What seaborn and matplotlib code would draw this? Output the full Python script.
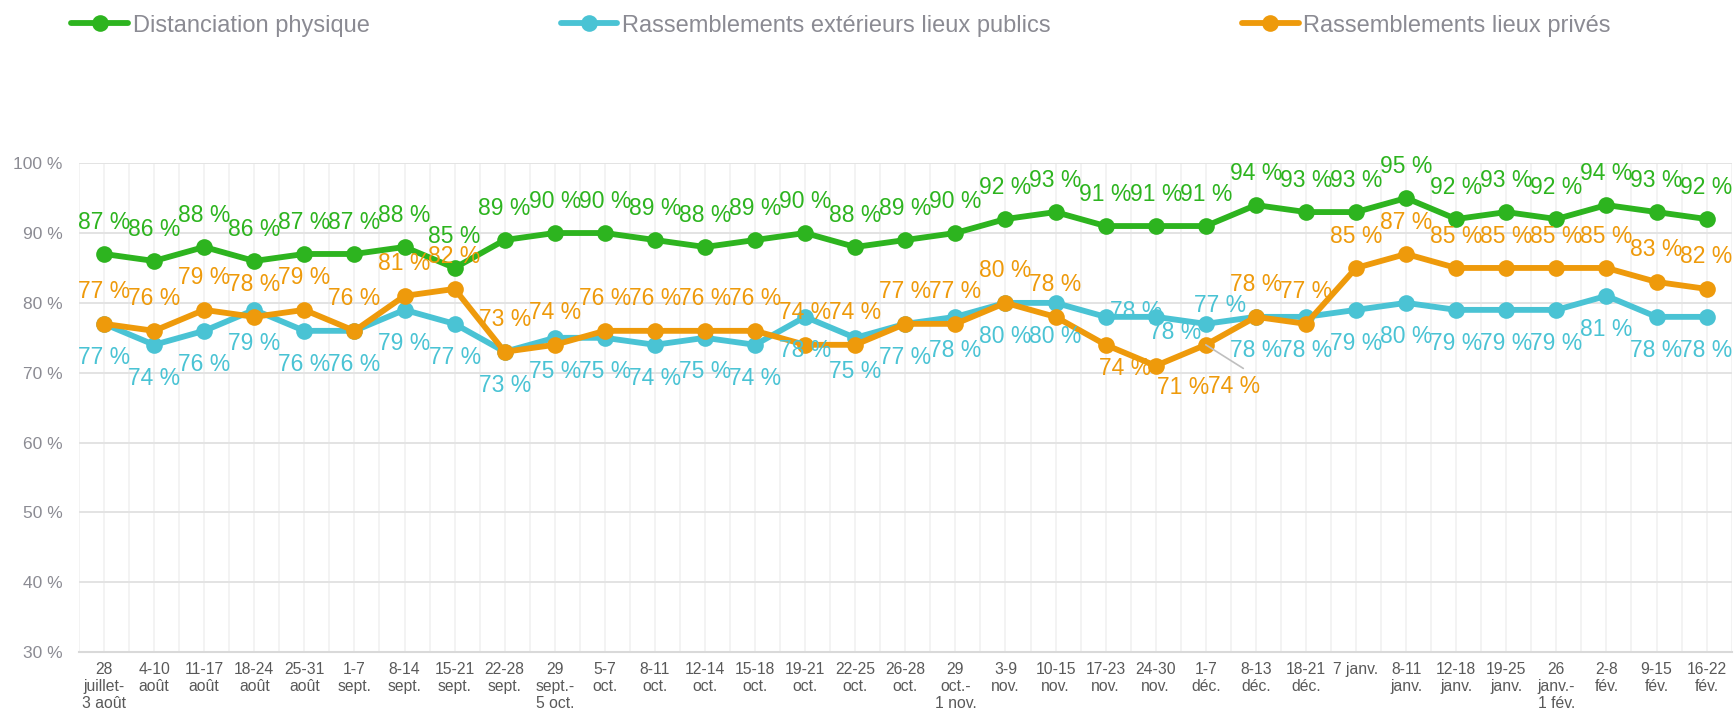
import matplotlib
matplotlib.use('Agg')
import matplotlib.pyplot as plt
from matplotlib.ticker import FixedLocator
import numpy as np
import pandas as pd
import seaborn as sns

# Data
weeks = ['28\njuillet-\n3 août', '4-10\naoût', '11-17\naoût', '18-24\naoût', '25-31\naoût',
         '1-7\nsept.', '8-14\nsept.', '15-21\nsept.', '22-28\nsept.', '29\nsept.-\n5 oct.',
         '5-7\noct.', '8-11\noct.', '12-14\noct.', '15-18\noct.', '19-21\noct.', '22-25\noct.',
         '26-28\noct.', '29\noct.-\n1 nov.', '3-9\nnov.', '10-15\nnov.', '17-23\nnov.',
         '24-30\nnov.', '1-7\ndéc.', '8-13\ndéc.', '18-21\ndéc.', '7 janv.', '8-11\njanv.',
         '12-18\njanv.', '19-25\njanv.', '26\njanv.-\n1 fév.', '2-8\nfév.', '9-15\nfév.',
         '16-22\nfév.']

distanciation = [87, 86, 88, 86, 87, 87, 88, 85, 89, 90, 90, 89, 88, 89, 90, 88, 89, 90,
                 92, 93, 91, 91, 91, 94, 93, 93, 95, 92, 93, 92, 94, 93, 92]
exterieurs = [77, 74, 76, 79, 76, 76, 79, 77, 73, 75, 75, 74, 75, 74, 78, 75, 77, 78,
              80, 80, 78, 78, 77, 78, 78, 79, 80, 79, 79, 79, 81, 78, 78]
prives = [77, 76, 79, 78, 79, 76, 81, 82, 73, 74, 76, 76, 76, 76, 74, 74, 77, 77,
          80, 78, 74, 71, 74, 78, 77, 85, 87, 85, 85, 85, 85, 83, 82]

series = {
    'Distanciation physique': distanciation,
    'Rassemblements extérieurs lieux publics': exterieurs,
    'Rassemblements lieux privés': prives,
}
colors = ['#2DB41F', '#4AC3D4', '#EE9A0B']

# label offsets in points: default per series, plus a few moved labels
default_off = [(0, 23), (0, -24), (0, 23)]
moved = {
    (1, 20): (22, 4), (1, 21): (14, -11), (1, 22): (10, 13),
    (2, 20): (14, -17), (2, 21): (20, -16), (2, 22): (20, -30),
}

df = pd.concat([pd.DataFrame({'x': range(len(weeks)), 'value': v, 'serie': k})
                for k, v in series.items()])

sns.set_style('white')
plt.rcParams['font.family'] = ['Liberation Sans', 'DejaVu Sans']

fig = plt.figure(figsize=(17.36, 7.14), dpi=100)
ax = fig.add_axes([0.0455, 0.0865, 0.952, 0.685])

sns.lineplot(data=df, x='x', y='value', hue='serie', palette=colors, marker='o',
             markersize=12, markeredgewidth=0, linewidth=4.2, ax=ax, legend=True,
             sort=False)

# data labels
for s, ((name, vals), col) in enumerate(zip(series.items(), colors)):
    for i, v in enumerate(vals):
        dx, dy = moved.get((s, i), default_off[s])
        ax.annotate(f'{v} %', (i, v), xytext=(dx, dy), textcoords='offset points',
                    ha='center', va='center', fontsize=16.5, color=col)

# leader line for the moved label
ax.annotate('', (22, prives[22]), xytext=(27, -17), textcoords='offset points',
            arrowprops=dict(arrowstyle='-', color='#BFBFBF', lw=1.2, shrinkA=0, shrinkB=0))

ax.set_xlim(-0.5, len(weeks) - 0.5)
ax.set_ylim(30, 100)
ax.set_yticks(range(30, 101, 10))
ax.set_yticklabels([f'{t} %' for t in range(30, 101, 10)])
ax.set_xticks(range(len(weeks)))
ax.set_xticklabels(weeks, fontsize=11.3, color='#595959', linespacing=1.15)
ax.tick_params(axis='y', labelsize=12.5, labelcolor='#8B8B93', length=0, pad=12)
ax.tick_params(axis='x', length=0, pad=7)
ax.set_xlabel('')
ax.set_ylabel('')

# grid: horizontal at majors, vertical at centers and boundaries
ax.xaxis.set_minor_locator(FixedLocator(np.arange(-0.5, len(weeks), 1)))
ax.grid(axis='y', color='#E3E3E3', linewidth=1.4)
ax.grid(axis='x', which='both', color='#F1F1F1', linewidth=1.2)
ax.set_axisbelow(True)
for s in ['top', 'right', 'left']:
    ax.spines[s].set_visible(False)
ax.spines['bottom'].set_color('#D9D9D9')
ax.spines['bottom'].set_linewidth(1.5)

handles, labels = ax.get_legend_handles_labels()
ax.legend_.remove()
leg = fig.legend(handles, labels, loc='center left', bbox_to_anchor=(0.041, 0.964),
                 ncol=3, frameon=False, fontsize=17, handlelength=2.4,
                 handletextpad=0.2, columnspacing=8.1, borderaxespad=0, borderpad=0)
for t in leg.get_texts():
    t.set_color('#8B8B93')

fig.savefig('out.png', dpi=100)
